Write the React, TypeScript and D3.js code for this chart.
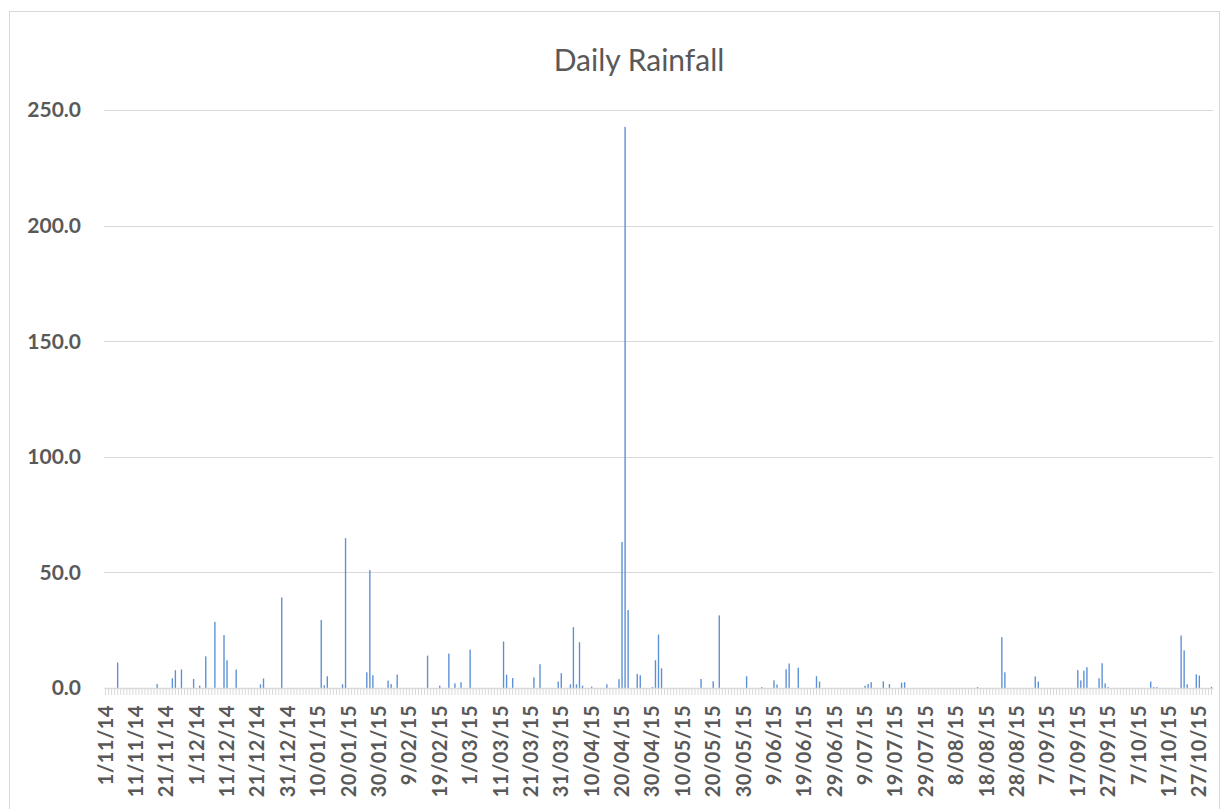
import React, { useEffect, useRef } from 'react';
import * as d3 from 'd3';

// every day from 1/11/14 to 31/10/15
const days = d3.timeDay.range(new Date(2014, 10, 1), new Date(2015, 10, 1));
const fmt = d3.timeFormat('%-d/%m/%y');
const categories = days.map(d => fmt(d));

// days with rain (all other days are 0.0)
const wetDates = [
  '5/11/14', '18/11/14', '23/11/14', '24/11/14', '26/11/14', '30/11/14', '2/12/14', '4/12/14',
  '7/12/14', '10/12/14', '11/12/14', '14/12/14', '22/12/14', '23/12/14', '29/12/14', '11/01/15',
  '12/01/15', '13/01/15', '18/01/15', '19/01/15', '26/01/15', '27/01/15', '28/01/15', '2/02/15',
  '3/02/15', '5/02/15', '15/02/15', '19/02/15', '22/02/15', '24/02/15', '26/02/15', '1/03/15',
  '12/03/15', '13/03/15', '15/03/15', '22/03/15', '24/03/15', '30/03/15', '31/03/15', '3/04/15',
  '4/04/15', '5/04/15', '6/04/15', '7/04/15', '10/04/15', '15/04/15', '19/04/15', '20/04/15',
  '21/04/15', '22/04/15', '25/04/15', '26/04/15', '30/04/15', '1/05/15', '2/05/15', '3/05/15',
  '16/05/15', '20/05/15', '22/05/15', '31/05/15', '5/06/15', '9/06/15', '10/06/15', '13/06/15',
  '14/06/15', '17/06/15', '23/06/15', '24/06/15', '9/07/15', '10/07/15', '11/07/15', '15/07/15',
  '17/07/15', '21/07/15', '22/07/15', '15/08/15', '23/08/15', '24/08/15', '3/09/15', '4/09/15',
  '17/09/15', '18/09/15', '19/09/15', '20/09/15', '24/09/15', '25/09/15', '26/09/15', '27/09/15',
  '11/10/15', '12/10/15', '13/10/15', '21/10/15', '22/10/15', '23/10/15', '26/10/15', '27/10/15',
  '31/10/15',
];
const wetMm = [
  11.0, 1.7, 4.2, 7.7, 8.0, 3.9, 1.0, 13.7,
  28.6, 22.9, 12.0, 8.0, 1.6, 4.1, 39.2, 29.4,
  1.2, 5.1, 1.6, 64.8, 6.8, 51.0, 5.5, 3.2,
  1.7, 5.8, 14.0, 1.0, 14.9, 2.0, 2.5, 16.6,
  20.1, 5.8, 4.3, 4.6, 10.3, 2.8, 6.4, 1.6,
  26.3, 1.6, 19.8, 1.0, 0.6, 1.6, 3.8, 63.2,
  242.7, 33.7, 6.1, 5.5, 0.4, 12.0, 23.1, 8.5,
  3.9, 2.9, 31.4, 5.1, 0.4, 3.3, 1.5, 8.1,
  10.6, 8.8, 5.1, 2.8, 1.0, 1.7, 2.5, 2.9,
  1.7, 2.3, 2.5, 0.4, 22.0, 6.8, 5.0, 2.8,
  7.7, 3.3, 7.5, 9.0, 4.2, 10.7, 2.0, 0.4,
  2.8, 0.4, 0.4, 22.7, 16.3, 1.6, 5.9, 5.4,
  0.5,
];
const yTicks = [0, 50, 100, 150, 200, 250];

export default function App() {
  const svgRef = useRef<SVGSVGElement>(null);

  useEffect(() => {
    if (!svgRef.current) return;
    document.body.style.margin = '0';

    const W = 1227;
    const H = 809;
    const margin = { top: 110, right: 14, bottom: 121, left: 104 };
    const width = W - margin.left - margin.right;
    const height = H - margin.top - margin.bottom;

    const rainByDate = new Map(wetDates.map((d, i) => [d, wetMm[i]]));
    const data = categories.map(c => ({ date: c, value: rainByDate.get(c) ?? 0 }));

    const svg = d3.select(svgRef.current);
    svg.selectAll('*').remove();
    svg.attr('width', W).attr('height', H).style('display', 'block');

    svg.append('rect')
      .attr('width', W).attr('height', H).attr('fill', 'white');

    // chart border
    svg.append('rect')
      .attr('x', 9.5).attr('y', 11.5)
      .attr('width', 1210).attr('height', 820)
      .attr('fill', 'none')
      .attr('stroke', '#d9d9d9');

    svg.append('text')
      .attr('x', 639).attr('y', 71)
      .attr('text-anchor', 'middle')
      .attr('font-family', 'Lato, sans-serif')
      .attr('font-size', 30)
      .attr('fill', '#595959')
      .text('Daily Rainfall');

    const g = svg.append('g').attr('transform', `translate(${margin.left},${margin.top})`);

    const x = d3.scaleBand<string>().domain(categories).range([0, width]).paddingInner(0.55).paddingOuter(0.27);
    const y = d3.scaleLinear().domain([0, 250]).range([height, 0]);

    // gridlines
    g.append('g')
      .selectAll('line')
      .data(yTicks.slice(1))
      .enter()
      .append('line')
      .attr('x1', 0).attr('x2', width)
      .attr('y1', d => Math.round(y(d)) + 0.5).attr('y2', d => Math.round(y(d)) + 0.5)
      .attr('stroke', '#d9d9d9');

    // y labels
    g.append('g')
      .selectAll('text')
      .data(yTicks)
      .enter()
      .append('text')
      .attr('x', -23)
      .attr('y', d => y(d))
      .attr('dy', '0.35em')
      .attr('text-anchor', 'end')
      .attr('font-family', 'Lato, sans-serif')
      .attr('font-weight', 'bold')
      .attr('font-size', 21)
      .attr('fill', '#595959')
      .text(d => d3.format('.1f')(d));

    // bars
    g.selectAll('.bar')
      .data(data.filter(d => d.value > 0))
      .enter()
      .append('rect')
      .attr('class', 'bar')
      .attr('x', d => x(d.date) || 0)
      .attr('width', x.bandwidth())
      .attr('y', d => y(d.value))
      .attr('height', d => height - y(d.value))
      .attr('fill', '#5b8fd6');

    // x axis: a tick every day, a label every 10 days
    const xAxis = g.append('g')
      .attr('transform', `translate(0,${height})`)
      .call(
        d3.axisBottom(x)
          .tickValues(categories)
          .tickSize(7)
          .tickSizeOuter(0)
          .tickFormat((d, i) => (i % 10 === 0 ? d : ''))
      );
    xAxis.select('.domain').attr('stroke', '#d9d9d9').attr('stroke-width', 1.5);
    xAxis.selectAll('.tick line').attr('stroke', '#d9d9d9');
    xAxis.selectAll('.tick text')
      .attr('transform', 'rotate(-90)')
      .attr('x', -17)
      .attr('y', 0)
      .attr('dy', '0.35em')
      .attr('text-anchor', 'end')
      .attr('font-family', 'Lato, sans-serif')
      .attr('font-weight', 'bold')
      .attr('font-size', 20)
      .attr('letter-spacing', 0.5)
      .attr('fill', '#595959');
  }, []);

  return <svg ref={svgRef}></svg>;
}
